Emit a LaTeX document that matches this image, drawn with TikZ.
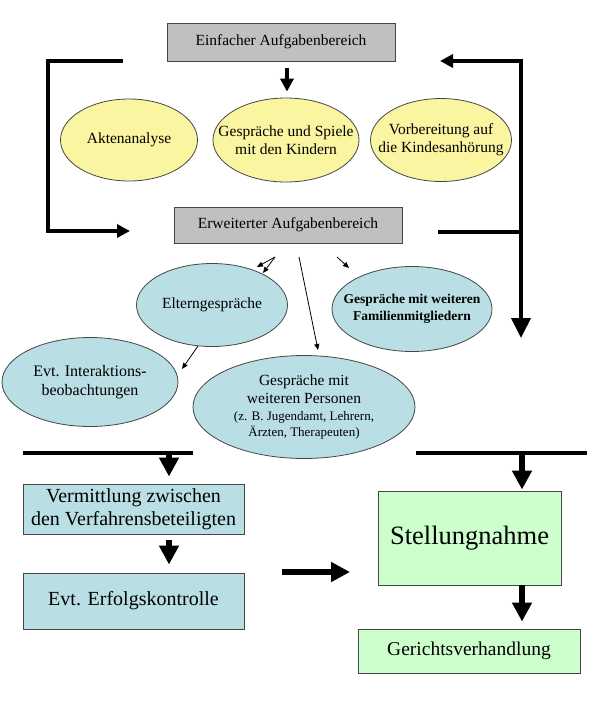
\documentclass[tikz,border=0pt]{standalone}
\usepackage{fontspec}
\setmainfont{Liberation Serif}
\usetikzlibrary{arrows.meta,shapes.geometric}
\definecolor{boxgray}{RGB}{192,192,192}
\definecolor{ellyellow}{RGB}{250,245,160}
\definecolor{lblue}{RGB}{185,222,228}
\definecolor{lgreen}{RGB}{204,255,204}
\definecolor{edgec}{RGB}{70,70,70}
\begin{document}
\begin{tikzpicture}[x=1pt,y=-1pt,
  graybox/.style={draw=edgec, line width=0.9pt, fill=boxgray, minimum width=228pt, inner sep=0pt, font=\fontsize{15.5}{18}\selectfont},
  yell/.style={ellipse, draw=edgec, line width=0.8pt, fill=ellyellow, inner sep=0pt},
  bell/.style={ellipse, draw=edgec, line width=0.8pt, fill=lblue, inner sep=0pt},
  bluebox/.style={draw=edgec, line width=0.9pt, fill=lblue, inner sep=0pt, align=center, font=\fontsize{20}{23}\selectfont},
  greenbox/.style={draw=edgec, line width=0.9pt, fill=lgreen, inner sep=0pt, align=center},
  lbl/.style={align=center, inner sep=0pt, font=\fontsize{15.5}{18}\selectfont},
  bigarrow/.style={line width=4pt, line join=miter, -{Triangle[width=13pt,length=13pt]}},
  hugearrow/.style={line width=5.5pt, -{Triangle[width=19pt,length=19pt]}},
  thinarrow/.style={line width=0.8pt, -{Triangle[width=5pt,length=6pt]}},
  barline/.style={line width=4pt}
]
\fill[white] (0,0) rectangle (600,715);
\useasboundingbox (0,0) rectangle (600,715);

% top boxes
\node[graybox, minimum height=38pt] (b1) at (281,42) {Einfacher Aufgabenbereich};
\node[graybox, minimum height=36pt] (b2) at (288,225) {Erweiterter Aufgabenbereich};

% yellow ellipses
\node[yell, minimum width=137pt, minimum height=82pt] (akt) at (129,140) {};
\node[lbl] (akttxt) at (akt) {Aktenanalyse};
\node[yell, minimum width=146pt, minimum height=84pt] (ges) at (286,140) {};
\node[lbl] (gestxt) at (ges) {Gespräche und Spiele\\mit den Kindern};
\node[yell, minimum width=141pt, minimum height=83pt] (vor) at (441,140) {};
\node[lbl] (vortxt) at (vor) {Vorbereitung auf\\die Kindesanhörung};

% blue ellipses
\node[bell, minimum width=151pt, minimum height=83pt] (elt) at (212,305) {};
\node[lbl] (elttxt) at (elt) {Elterngespräche};
\node[bell, minimum width=160pt, minimum height=85pt] (fam) at (412,309) {};
\node[lbl, font=\fontsize{13.5}{17}\selectfont\bfseries] (famtxt) at (fam) {Gespräche mit weiteren\\Familienmitgliedern};
\node[bell, minimum width=176pt, minimum height=89pt] (int) at (90,382) {};
\node[lbl, font=\fontsize{16}{19}\selectfont] (inttxt) at (int) {Evt. Interaktions-\\beobachtungen};
\node[bell, minimum width=222pt, minimum height=103pt] (wp) at (304,407) {};
\node[lbl] (wptxt) at (wp) {Gespräche mit\\weiteren Personen\\[-1pt]{\fontsize{13}{16}\selectfont (z. B. Jugendamt, Lehrern,}\\[-2pt]{\fontsize{13}{16}\selectfont Ärzten, Therapeuten)}};

% lower boxes
\node[bluebox, minimum width=221pt, minimum height=50pt] (verm) at (133.5,509) {Vermittlung zwischen\\den Verfahrensbeteiligten};
\node[bluebox, minimum width=221pt, minimum height=56pt] (erf) at (133.5,601) {Evt. Erfolgskontrolle};
\node[greenbox, minimum width=183pt, minimum height=94pt, font=\fontsize{26.5}{30}\selectfont] (st) at (469.5,538) {Stellungnahme};
\node[greenbox, minimum width=222pt, minimum height=44pt, font=\fontsize{19.5}{22}\selectfont] (ger) at (469,651) {Gerichtsverhandlung};

% top arrow
\draw[bigarrow] ([xshift=6pt,yshift=-7pt]b1.south) -- ([xshift=1pt,yshift=6pt]ges.north);

% left bracket
\coordinate (lbs) at (123,61);
\coordinate (lbt) at (130,231);
\draw[bigarrow] (lbs) -- (48,61) -- (48,231) -- (lbt);

% right bracket
\coordinate (rbs) at (438,232);
\coordinate (rbc) at (521,232);
\coordinate (rbt) at (440,61);
\coordinate (rbd) at (521,338);
\draw[bigarrow] (rbs) -- (rbc) -- (521,61) -- (rbt);
\draw[line width=4pt, -{Triangle[width=19pt,length=20pt]}] (rbc) -- (rbd);

% thin arrows
\coordinate (t1) at (275,257);
\coordinate (t1a) at (257,267);
\coordinate (t1b) at (263,273);
\draw[thinarrow] (t1) -- (t1a);
\draw[thinarrow] (t1) -- (t1b);
\coordinate (t2) at (299,257);
\coordinate (t2a) at (318,350);
\draw[thinarrow] (t2) -- (t2a);
\coordinate (t3) at (337,257);
\coordinate (t3a) at (349,268);
\draw[thinarrow] (t3) -- (t3a);
\coordinate (t4) at (198,346);
\coordinate (t4a) at (182,369);
\draw[thinarrow] (t4) -- (t4a);

% bars
\coordinate (la) at (169,453);
\coordinate (ra) at (522,453);
\draw[barline] (23,453) -- (193,453);
\draw[barline] (416,453) -- (587,453);

% lower arrows
\draw[hugearrow, shorten >=7pt] (la) -- (la |- verm.north);
\draw[hugearrow, shorten <=6pt, shorten >=8pt] (la |- verm.south) -- (la |- erf.north);
\coordinate (ha) at (282,572);
\coordinate (hb) at (350,572);
\draw[hugearrow] (ha) -- (hb);
\draw[hugearrow, shorten >=1pt] (ra) -- (ra |- st.north);
\draw[hugearrow, shorten >=7pt] (ra |- st.south) -- (ra |- ger.north);
\end{tikzpicture}
\end{document}
